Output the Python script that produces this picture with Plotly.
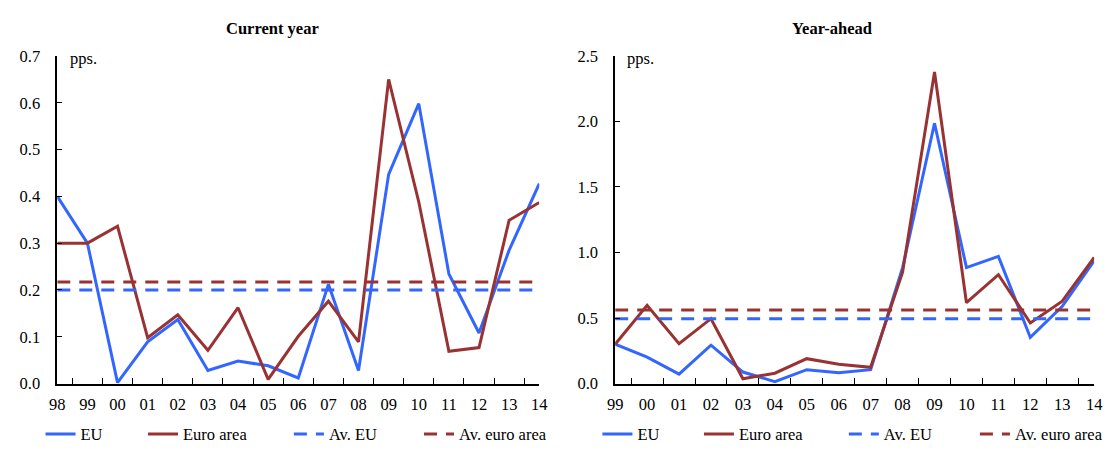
import plotly.graph_objects as go

# ---- data ----
years_cur = ["98", "99", "00", "01", "02", "03", "04", "05", "06", "07", "08", "09", "10", "11", "12", "13", "14"]
eu_cur = [0.400, 0.300, 0.002, 0.089, 0.137, 0.028, 0.048, 0.038, 0.012, 0.212, 0.028, 0.447, 0.598, 0.234, 0.108, 0.285, 0.427]
ea_cur = [0.300, 0.300, 0.336, 0.098, 0.147, 0.071, 0.162, 0.009, 0.101, 0.176, 0.089, 0.650, 0.388, 0.069, 0.077, 0.349, 0.387]
av_eu_cur = 0.200
av_ea_cur = 0.217

years_ahead = ["99", "00", "01", "02", "03", "04", "05", "06", "07", "08", "09", "10", "11", "12", "13", "14"]
eu_ahead = [0.300, 0.202, 0.072, 0.293, 0.088, 0.015, 0.106, 0.082, 0.106, 0.885, 1.986, 0.885, 0.970, 0.352, 0.590, 0.936]
ea_ahead = [0.300, 0.597, 0.305, 0.495, 0.037, 0.079, 0.190, 0.147, 0.124, 0.850, 2.378, 0.617, 0.831, 0.462, 0.629, 0.962]
av_eu_ahead = 0.495
av_ea_ahead = 0.562

titles = ["Current year", "Year-ahead"]
unit = "pps."
names = ["EU", "Euro area", "Av. EU", "Av. euro area"]

BLUE = "#3366ff"
RED = "#993333"
FONT = "Liberation Serif, Times New Roman, serif"
FS = 16.5
DASH = "13px,9px"

W, H = 1116, 452

fig = go.Figure()

# one legend per entry so each entry sits where the reference puts it
leg_ids = ["legend", "legend2", "legend3", "legend4", "legend5", "legend6", "legend7", "legend8"]
leg_x_px = [33, 137, 285, 417, 598, 701, 848, 981]


def add_panel(x, eu, ea, av_eu, av_ea, xa, ya, legs):
    styles = [dict(color=BLUE, width=3), dict(color=RED, width=3),
              dict(color=BLUE, width=3, dash=DASH), dict(color=RED, width=3, dash=DASH)]
    ys = [eu, ea, [av_eu] * len(x), [av_ea] * len(x)]
    for name, yv, st, lg in zip(names, ys, styles, legs):
        fig.add_trace(go.Scatter(x=x, y=yv, mode="lines", name=name, line=st,
                                 xaxis=xa, yaxis=ya, legend=lg, showlegend=True))


add_panel(years_cur, eu_cur, ea_cur, av_eu_cur, av_ea_cur, "x", "y", leg_ids[:4])
add_panel(years_ahead, eu_ahead, ea_ahead, av_eu_ahead, av_ea_ahead, "x2", "y2", leg_ids[4:])


def py(px_from_top):
    return (H - px_from_top) / H


ydom = [py(391), py(49)]

xcommon = dict(type="category", showline=True, linecolor="black", linewidth=1.5, ticks="inside",
               ticklen=6, tickcolor="black", tickson="boundaries", showgrid=False, zeroline=False,
               tickfont=dict(family=FONT, size=FS, color="black"), ticklabelstandoff=5)
ycommon = dict(showline=True, linecolor="black", linewidth=1.5, ticks="inside", ticklen=5,
               tickcolor="black", showgrid=False, zeroline=False,
               tickfont=dict(family=FONT, size=FS, color="black"), ticklabelstandoff=12)

legends = {}
for lid, px in zip(leg_ids, leg_x_px):
    legends[lid] = dict(orientation="h", font=dict(family=FONT, size=FS, color="black"),
                        yanchor="middle", y=py(444), xanchor="left", x=px / W,
                        bgcolor="rgba(0,0,0,0)", borderwidth=0, visible=True)

ann_font = dict(family=FONT, size=FS, color="black")

fig.update_layout(
    width=W, height=H,
    margin=dict(l=0, r=0, t=0, b=0),
    showlegend=True,
    paper_bgcolor="white", plot_bgcolor="white",
    font=dict(family=FONT, size=FS, color="black"),
    xaxis=dict(domain=[50 / W, 539 / W], anchor="y", **xcommon),
    yaxis=dict(domain=ydom, anchor="x", range=[0, 0.7], dtick=0.1, tickformat=".1f", **ycommon),
    xaxis2=dict(domain=[616 / W, 1102 / W], anchor="y2", **xcommon),
    yaxis2=dict(domain=ydom, anchor="x2", range=[0, 2.5], dtick=0.5, tickformat=".1f", **ycommon),
    annotations=[
        dict(text="<b>" + titles[0] + "</b>", x=268 / W, y=py(20), xref="paper", yref="paper",
             showarrow=False, font=ann_font, xanchor="center", yanchor="middle"),
        dict(text="<b>" + titles[1] + "</b>", x=836 / W, y=py(20), xref="paper", yref="paper",
             showarrow=False, font=ann_font, xanchor="center", yanchor="middle"),
        dict(text=unit, x=61 / W, y=py(52), xref="paper", yref="paper", showarrow=False,
             font=ann_font, xanchor="left", yanchor="middle"),
        dict(text=unit, x=626 / W, y=py(52), xref="paper", yref="paper", showarrow=False,
             font=ann_font, xanchor="left", yanchor="middle"),
    ],
    **legends,
)

# remove the browser's default page margin so the figure starts at the window's corner
fig.write_html("out.html", config={"displayModeBar": False},
               post_script="document.body.style.margin='0';document.body.style.overflow='hidden';")
